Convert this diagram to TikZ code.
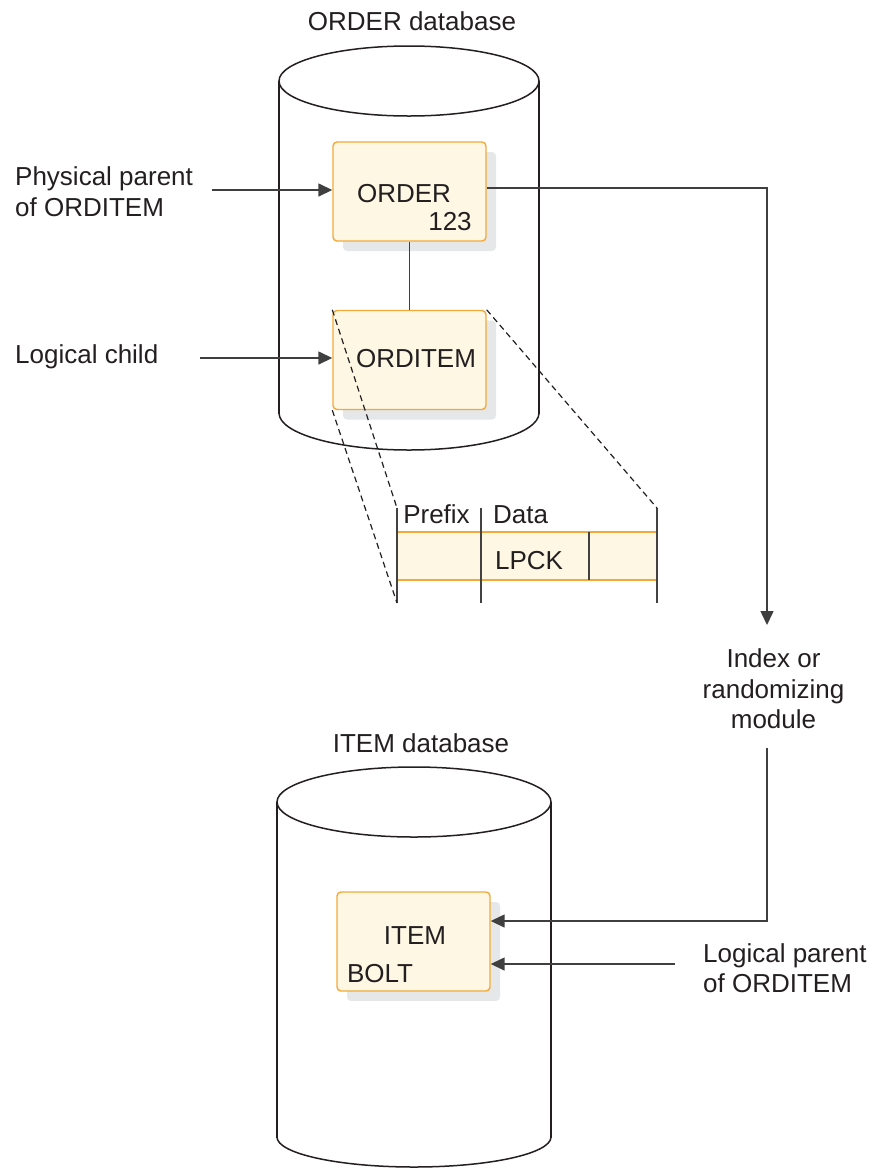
\documentclass[tikz,border=0pt]{standalone}
\usepackage{fontspec}
\setmainfont{Liberation Sans}
\usetikzlibrary{arrows.meta}
\definecolor{boxfill}{HTML}{FDF7E4}
\definecolor{boxline}{HTML}{F2A93B}
\definecolor{shadowc}{HTML}{E6E7E8}
\definecolor{ink}{HTML}{231F20}
\definecolor{conn}{HTML}{3F3F3F}
\begin{document}
\begin{tikzpicture}[x=1pt,y=-1pt,
  txt/.style={font=\fontsize{26}{31}\selectfont, text=ink, inner sep=0pt},
  recbox/.style={draw=boxline, fill=boxfill, line width=1.4pt, rounded corners=4pt, minimum width=153pt, minimum height=99pt, inner sep=0pt},
  shadowbox/.style={fill=shadowc, rounded corners=4pt, minimum width=153pt, minimum height=99pt, inner sep=0pt},
  cyl/.style={draw=ink, line width=1.5pt},
  arr/.style={draw=conn, line width=1.5pt, -{Triangle[length=14pt,width=13pt]}},
  conline/.style={draw=conn, line width=1.5pt},
  dashline/.style={draw=ink, line width=1.2pt, dash pattern=on 6pt off 4pt},
  tick/.style={draw=ink!85, line width=1.3pt},
]
\useasboundingbox (0,0) rectangle (874,1168);

% ---------- ORDER database cylinder ----------
\node[txt, anchor=base] (ordertitle) at (412,30) {ORDER database};
\draw[cyl] (409,81) ellipse [x radius=130pt, y radius=35pt];
\draw[cyl] (279,81) -- (279,414);
\draw[cyl] (539,81) -- (539,414);
\begin{scope}
  \clip (260,413) rectangle (560,470);
  \draw[cyl] (409,413) ellipse [x radius=130pt, y radius=37pt];
\end{scope}

% ORDER segment
\node[shadowbox] (ordersh) at (419.5,201.5) {};
\node[recbox] (order) at (409.5,191.5) {};
\node[txt, anchor=base] (ordertxt) at (404,202) {ORDER};
\node[txt, anchor=base] (ordernum) at (450,230) {123};

% ORDITEM segment
\node[shadowbox] (ordish) at (419.5,370) {};
\node[recbox] (ordi) at (409.5,360) {};
\node[txt, anchor=base] (orditxt) at (416,367) {ORDITEM};

\draw[conline] (order.south) -- (ordi.north);

% Left labels
\node[txt, anchor=base west] (pp1) at (15,185) {Physical parent};
\node[txt, anchor=base west] (pp2) at (15,216) {of ORDITEM};
\coordinate (ppstart) at (212,190);
\draw[arr] (ppstart) -- (ppstart -| order.west);

\node[txt, anchor=base west] (lc) at (15,363) {Logical child};
\coordinate (lcstart) at (200,358);
\draw[arr] (lcstart) -- (lcstart -| ordi.west);

% ---------- record layout ----------
\coordinate (rtl) at (397,508);
\coordinate (rbl) at (397,603);
\coordinate (rtr) at (657,508);
\fill[boxfill] (397,532) rectangle (657,580);
\draw[draw=boxline, line width=1.3pt] (397,532) -- (657,532);
\draw[draw=boxline, line width=1.3pt] (397,580) -- (657,580);
\draw[tick] (rtl) -- (rbl);
\draw[tick] (481,508) -- (481,603);
\draw[tick] (rtr) -- (657,603);
\draw[tick] (589,532) -- (589,580);
\node[txt, anchor=base] (prefix) at (436.5,523) {Prefix};
\node[txt, anchor=base] (data) at (520.5,523) {Data};
\node[txt, anchor=base] (lpck) at (529,569) {LPCK};

\draw[dashline] (ordi.north west) -- (rtl);
\draw[dashline] (ordi.south west) -- (rbl);
\draw[dashline] (ordi.north east) -- (rtr);

% ---------- Index / randomizing module ----------
\node[txt, anchor=base] (idx1) at (773.5,667) {Index or};
\node[txt, anchor=base] (idx2) at (773.5,698) {randomizing};
\node[txt, anchor=base] (idx3) at (773.5,728) {module};
\coordinate (idxtop) at (767,625);
\coordinate (idxbot) at (767,748);
\draw[arr] (order.east |- 0,188) -| (idxtop);

% ---------- ITEM database cylinder ----------
\node[txt, anchor=base] (itemtitle) at (421,752) {ITEM database};
\draw[cyl] (414,802) ellipse [x radius=137pt, y radius=35pt];
\draw[cyl] (277,802) -- (277,1138);
\draw[cyl] (551,802) -- (551,1138);
\begin{scope}
  \clip (260,1137) rectangle (570,1168);
  \draw[cyl] (414,1137) ellipse [x radius=137pt, y radius=30pt];
\end{scope}

\node[shadowbox] (itemsh) at (423.5,951.5) {};
\node[recbox] (item) at (413.5,941.5) {};
\node[txt, anchor=base] (itemtxt) at (415,944) {ITEM};
\node[txt, anchor=base] (bolt) at (380,982) {BOLT};

\draw[arr] (idxbot) |- (item.east |- 0,921);

\node[txt, anchor=base west] (lp1) at (703,962) {Logical parent};
\node[txt, anchor=base west] (lp2) at (703,992) {of ORDITEM};
\coordinate (lpstart) at (675,964);
\draw[arr] (lpstart) -- (lpstart -| item.east);
\end{tikzpicture}
\end{document}
